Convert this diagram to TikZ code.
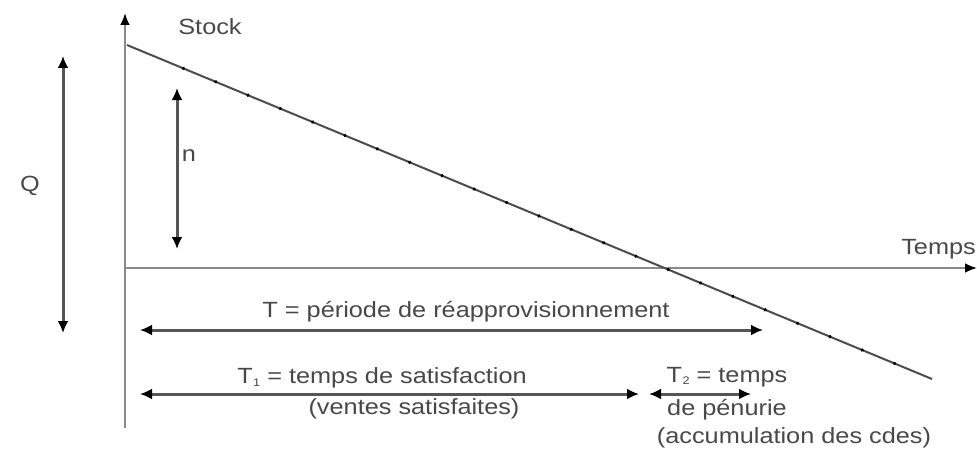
\documentclass[tikz,border=0pt]{standalone}
\usepackage{fontspec}
\setmainfont[FakeStretch=1.15]{Liberation Sans}
\usetikzlibrary{arrows.meta,decorations.markings}
\definecolor{txt}{HTML}{484848}
\definecolor{axis}{HTML}{8A8A8A}
\definecolor{arr}{HTML}{555555}
\newcommand{\subn}[1]{\kern0.5pt\raisebox{-2.5pt}{\fontsize{11}{11}\selectfont #1}}
\begin{document}
\begin{tikzpicture}[x=1pt,y=-1pt,
  lbl/.style={text=txt,font=\fontsize{22}{25}\selectfont,inner sep=0pt,align=center},
  axisline/.style={draw=axis,line width=2.6pt,-{Latex[length=12pt,width=10pt,color=black]}},
  dbl/.style={draw=arr,line width=3pt,{Latex[length=12pt,width=11pt,color=black]}-{Latex[length=12pt,width=11pt,color=black]}},
  slope/.style={draw=black!70,line width=2pt,
    postaction={decorate,decoration={markings,mark=between positions 0.07 and 0.99 step 35pt with {\fill[black] (0,0) circle (1.8pt);}}}}]
\useasboundingbox (0,0) rectangle (977,452);
% axes
\coordinate (vbot) at (125,428);
\coordinate (vtop) at (125,13);
\coordinate (horg) at (125,268);
\coordinate (hend) at (977,268);
\draw[axisline] (vbot) -- (vtop);
\draw[axisline] (horg) -- (hend);
% stock line
\coordinate (s0) at (127,45);
\coordinate (s1) at (932,379);
\draw[slope] (s0) -- (s1);
% double arrows
\coordinate (qtop) at (63,56);
\coordinate (qbot) at (63,333);
\draw[dbl] (qtop) -- (qbot);
\coordinate (ntop) at (177,88);
\coordinate (nbot) at (177,249);
\draw[dbl] (ntop) -- (nbot);
\coordinate (tl) at (140,330);
\coordinate (tr) at (763,330);
\draw[dbl] (tl) -- (tr);
\coordinate (t1l) at (140,394);
\coordinate (t1r) at (639,394);
\draw[dbl] (t1l) -- (t1r);
\coordinate (t2l) at (649,394);
\coordinate (t2r) at (751,394);
\draw[dbl] (t2l) -- (t2r);
% labels
\node[lbl] (stock) at (210,27) {Stock};
\node[lbl,anchor=east] (temps) at (976,249) {Temps};
\node[lbl] (q) at (30,186) {Q};
\node[lbl] (n) at (189,156) {n};
\node[lbl] (tlab) at (466,312) {T = période de réapprovisionnement};
\node[lbl] (t1lab) at (382,378) {T\subn{1} = temps de satisfaction};
\node[lbl] (vs) at (414,409) {(ventes satisfaites)};
\node[lbl] (t2lab) at (727,377) {T\subn{2} = temps};
\node[lbl] (pen) at (727,410) {de pénurie};
\node[lbl] (acc) at (794,438) {(accumulation des cdes)};
\end{tikzpicture}
\end{document}
